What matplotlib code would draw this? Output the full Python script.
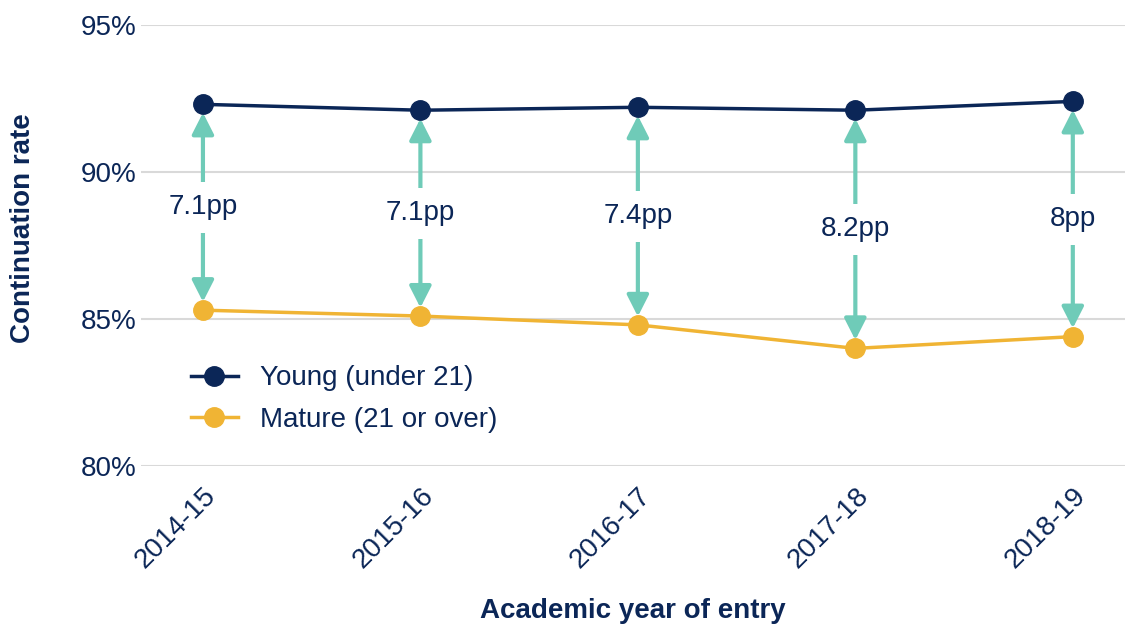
import matplotlib.pyplot as plt

plt.rcParams['font.family'] = ['Liberation Sans', 'DejaVu Sans']

# data
years = ["2014-15", "2015-16", "2016-17", "2017-18", "2018-19"]
young = [92.3, 92.1, 92.2, 92.1, 92.4]
mature = [85.3, 85.1, 84.8, 84.0, 84.4]
gap_labels = ["7.1pp", "7.1pp", "7.4pp", "8.2pp", "8pp"]

navy = "#0b2657"
gold = "#f0b434"
teal = "#6fcbb8"

fig = plt.figure(figsize=(11.25, 6.24), dpi=100)
ax = fig.add_axes([0.1253, 0.2532, 0.8747, 0.7068])

x = list(range(len(years)))

# gap arrows first, so points sit on top
for i in x:
    ax.annotate("", xy=(i, young[i]), xytext=(i, mature[i]),
                arrowprops=dict(arrowstyle="<|-|>,head_length=0.65,head_width=0.33",
                                color=teal, lw=3, shrinkA=6, shrinkB=6,
                                mutation_scale=20),
                zorder=2)
    mid = (young[i] + mature[i]) / 2
    ax.text(i, mid, gap_labels[i], ha="center", va="center", fontsize=20,
            color=navy, zorder=3,
            bbox=dict(facecolor="white", edgecolor="none", pad=9))

ax.plot(x, young, color=navy, lw=2.5, marker="o", markersize=14,
        label="Young (under 21)", zorder=4)
ax.plot(x, mature, color=gold, lw=2.5, marker="o", markersize=14,
        label="Mature (21 or over)", zorder=4)

ax.set_xlim(-0.285, 4.24)
ax.set_ylim(80, 95)
ax.set_yticks([80, 85, 90, 95])
ax.set_yticklabels(["80%", "85%", "90%", "95%"])
ax.set_xticks(x)
ax.set_xticklabels(years, rotation=45, ha="right", rotation_mode="anchor")

ax.tick_params(axis="both", length=0, labelsize=20, labelcolor=navy)
ax.tick_params(axis="x", pad=12)
ax.tick_params(axis="y", pad=3)
ax.grid(axis="y", color="#d9d9d9", lw=1.5)
ax.set_axisbelow(True)
for s in ax.spines.values():
    s.set_visible(False)

ax.set_xlabel("Academic year of entry", fontsize=20, fontweight="bold",
              color=navy, labelpad=18)
ax.set_ylabel("Continuation rate", fontsize=20, fontweight="bold",
              color=navy)
ax.yaxis.set_label_coords(-0.107, 0.54)

ax.legend(loc="upper left", bbox_to_anchor=(0.025, 0.285), frameon=False,
          fontsize=20, labelcolor=navy, handlelength=1.7, handletextpad=0.8,
          labelspacing=0.55)

fig.savefig("out.png", dpi=100)
